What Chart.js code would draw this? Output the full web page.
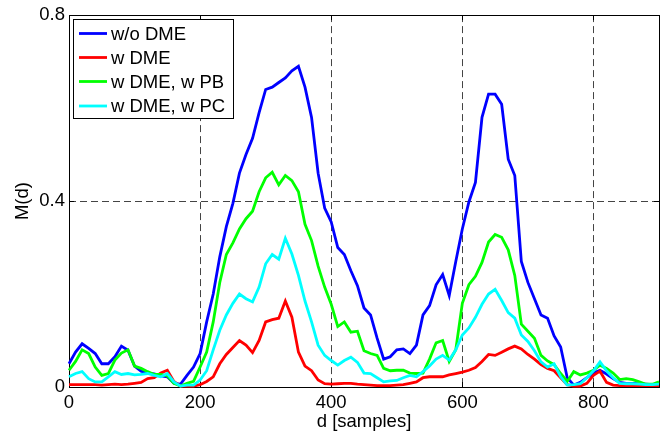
<!DOCTYPE html>
<html>
<head>
<meta charset="utf-8">
<script src="https://cdn.jsdelivr.net/npm/chart.js@4/dist/chart.umd.min.js"></script>
<style>
  html, body { margin: 0; padding: 0; background: #fff; }
  #wrap { width: 667px; height: 434px; }
</style>
</head>
<body>
<div id="wrap"><canvas id="c" width="667" height="434"></canvas></div>
<script>
// ---- data ----
const samples = [0,10,20,30,40,50,60,70,80,90,100,110,120,130,140,150,160,170,180,190,200,210,220,230,240,250,260,270,280,290,300,310,320,330,340,350,360,370,380,390,400,410,420,430,440,450,460,470,480,490,500,510,520,530,540,550,560,570,580,590,600,610,620,630,640,650,660,670,680,690,700,710,720,730,740,750,760,770,780,790,800,810,820,830,840,850,860,870,880,890,900];

const seriesNames = ["w/o DME", "w DME", "w DME, w PB", "w DME, w PC"];

const woDME = [0.05,0.075,0.093,0.083,0.072,0.05,0.05,0.065,0.088,0.079,
  0.045,0.034,0.03,0.028,0.024,0.022,0.008,0.006,0.025,0.043,
  0.072,0.14,0.2,0.28,0.345,0.395,0.46,0.5,0.535,0.59,
  0.64,0.645,0.655,0.665,0.68,0.69,0.645,0.58,0.46,0.385,
  0.355,0.3,0.285,0.25,0.218,0.17,0.155,0.105,0.06,0.065,
  0.08,0.082,0.072,0.09,0.155,0.175,0.22,0.242,0.197,0.27,
  0.34,0.398,0.44,0.58,0.63,0.63,0.608,0.49,0.455,0.27,
  0.225,0.19,0.155,0.148,0.11,0.086,0.02,0.004,0.01,0.02,
  0.03,0.036,0.028,0.018,0.01,0.008,0.008,0.007,0.006,0.005,
  0.005];

const wDME = [0.005,0.005,0.005,0.005,0.005,0.004,0.005,0.006,0.005,0.006,
  0.008,0.01,0.018,0.02,0.03,0.036,0.012,0.002,0.002,0.002,
  0.005,0.012,0.022,0.05,0.07,0.085,0.1,0.09,0.074,0.1,
  0.14,0.145,0.148,0.185,0.15,0.075,0.045,0.035,0.015,0.007,
  0.006,0.007,0.008,0.008,0.006,0.005,0.004,0.003,0.003,0.003,
  0.004,0.005,0.008,0.011,0.02,0.022,0.022,0.022,0.026,0.029,
  0.032,0.036,0.042,0.055,0.07,0.068,0.075,0.082,0.088,0.082,
  0.07,0.06,0.048,0.04,0.035,0.02,0.005,0.002,0.002,0.008,
  0.025,0.034,0.01,0.004,0.003,0.003,0.003,0.003,0.003,0.003,
  0.003];

const wDMEwPB = [0.036,0.055,0.08,0.072,0.043,0.025,0.029,0.058,0.073,0.08,
  0.045,0.04,0.033,0.027,0.027,0.024,0.008,0.002,0.008,0.012,
  0.043,0.075,0.14,0.225,0.285,0.31,0.34,0.362,0.378,0.42,
  0.45,0.462,0.435,0.455,0.444,0.42,0.35,0.315,0.26,0.215,
  0.178,0.13,0.14,0.118,0.12,0.078,0.072,0.068,0.04,0.035,
  0.036,0.036,0.03,0.029,0.03,0.06,0.095,0.1,0.055,0.08,
  0.18,0.22,0.238,0.268,0.312,0.328,0.322,0.295,0.24,0.135,
  0.12,0.105,0.068,0.056,0.048,0.029,0.012,0.033,0.026,0.03,
  0.036,0.047,0.04,0.03,0.016,0.018,0.016,0.011,0.006,0.006,
  0.011];

const wDMEwPC = [0.022,0.029,0.033,0.018,0.011,0.011,0.022,0.033,0.027,0.029,
  0.026,0.027,0.029,0.025,0.022,0.029,0.011,0.002,0.004,0.004,
  0.015,0.035,0.08,0.122,0.155,0.18,0.2,0.19,0.183,0.215,
  0.265,0.285,0.275,0.32,0.286,0.24,0.185,0.14,0.09,0.068,
  0.057,0.047,0.057,0.064,0.053,0.03,0.029,0.02,0.011,0.013,
  0.014,0.02,0.025,0.022,0.033,0.045,0.06,0.068,0.058,0.08,
  0.112,0.127,0.15,0.178,0.2,0.21,0.186,0.16,0.148,0.112,
  0.098,0.078,0.054,0.043,0.05,0.022,0.004,0.005,0.007,0.02,
  0.035,0.054,0.035,0.02,0.008,0.007,0.007,0.006,0.005,0.005,
  0.006];

const xTicks = [0, 200, 400, 600, 800];
const yTicks = [0, 0.4, 0.8];
const xLabel = "d [samples]";
const yLabel = "M(d)";

// ---- styles ----
const colors = ["#0000ff", "#ff0000", "#00ff00", "#00ffff"];
const FONT = "'Liberation Sans', Arial, Helvetica, sans-serif";
const FS = 18.5;

const allSeries = [woDME, wDME, wDMEwPB, wDMEwPC];
const datasets = allSeries.map((s, i) => ({
  label: seriesNames[i],
  data: samples.map((x, j) => ({ x: x, y: s[j] })),
  borderColor: colors[i],
  backgroundColor: colors[i],
  borderWidth: 2.8,
  pointRadius: 0,
  tension: 0,
  fill: false,
  clip: false,
  order: 3 - i   // later series on top, as in the reference
}));

const framePlugin = {
  id: 'frame',
  beforeDatasetsDraw(chart) {
    const { ctx, chartArea: a, scales } = chart;
    ctx.save();
    ctx.strokeStyle = '#000';
    ctx.lineWidth = 1;
    ctx.strokeRect(Math.round(a.left) + 0.5, Math.round(a.top) + 0.5,
                   Math.round(a.right - a.left), Math.round(a.bottom - a.top));
    const tl = 5;
    ctx.beginPath();
    xTicks.forEach(v => {
      const px = Math.round(scales.x.getPixelForValue(v)) + 0.5;
      ctx.moveTo(px, a.bottom); ctx.lineTo(px, a.bottom - tl);
      ctx.moveTo(px, a.top); ctx.lineTo(px, a.top + tl);
    });
    yTicks.forEach(v => {
      const py = Math.round(scales.y.getPixelForValue(v)) + 0.5;
      ctx.moveTo(a.left, py); ctx.lineTo(a.left + tl, py);
      ctx.moveTo(a.right, py); ctx.lineTo(a.right - tl, py);
    });
    ctx.stroke();
    ctx.restore();
  },
  afterDatasetsDraw(chart) {
    const { ctx } = chart;
    const bx = 73.5, by = 19.5, bw = 160, bh = 99;
    ctx.save();
    ctx.fillStyle = '#fff';
    ctx.fillRect(bx, by, bw, bh);
    ctx.strokeStyle = '#000';
    ctx.lineWidth = 1;
    ctx.strokeRect(bx, by, bw, bh);
    ctx.font = FS + 'px ' + FONT;
    ctx.textBaseline = 'middle';
    ctx.textAlign = 'left';
    const rows = [33.5, 57.5, 81.5, 106];
    seriesNames.forEach((name, i) => {
      const y = rows[i];
      ctx.strokeStyle = colors[i];
      ctx.lineWidth = 2.8;
      ctx.beginPath();
      ctx.moveTo(79, y); ctx.lineTo(107, y);
      ctx.stroke();
      ctx.fillStyle = '#000';
      ctx.fillText(name, 111, y + 1);
    });
    ctx.restore();
  }
};

new Chart(document.getElementById('c'), {
  type: 'line',
  data: { datasets: datasets },
  plugins: [framePlugin],
  options: {
    responsive: false,
    devicePixelRatio: 1,
    animation: false,
    events: [],
    layout: { padding: { top: 13, right: 8, left: 0, bottom: 0 } },
    plugins: { legend: { display: false }, tooltip: { enabled: false } },
    scales: {
      x: {
        type: 'linear',
        min: 0, max: 900,
        afterFit(s) { s.height = 47; },
        afterBuildTicks(s) { s.ticks = xTicks.map(v => ({ value: v })); },
        ticks: { color: '#000', font: { family: FONT, size: FS }, padding: 5, maxRotation: 0, autoSkip: false,
                 callback: v => String(v) },
        grid: { lineWidth: 1, drawTicks: false,
                color: ctx => (ctx.tick && (ctx.tick.value === 0 || ctx.tick.value === 900)) ? 'rgba(0,0,0,0)' : '#444' },
        border: { display: false, dash: [7, 4] },
        title: { display: true, text: xLabel, color: '#000', font: { family: FONT, size: FS }, padding: { top: 0, bottom: 1 } }
      },
      y: {
        type: 'linear',
        min: 0, max: 0.8,
        afterFit(s) { s.width = 69; },
        afterBuildTicks(s) { s.ticks = yTicks.map(v => ({ value: v })); },
        ticks: { color: '#000', font: { family: FONT, size: FS }, padding: 4,
                 callback: v => String(Math.round(v * 10) / 10) },
        grid: { drawTicks: false,
                color: ctx => (ctx.tick && (ctx.tick.value === 0 || ctx.tick.value === 0.8)) ? 'rgba(0,0,0,0)' : '#444' },
        border: { display: false, dash: [7, 4] },
        title: { display: true, text: yLabel, color: '#000', font: { family: FONT, size: FS }, padding: { top: 12, bottom: 0 } }
      }
    }
  }
});
</script>
</body>
</html>
